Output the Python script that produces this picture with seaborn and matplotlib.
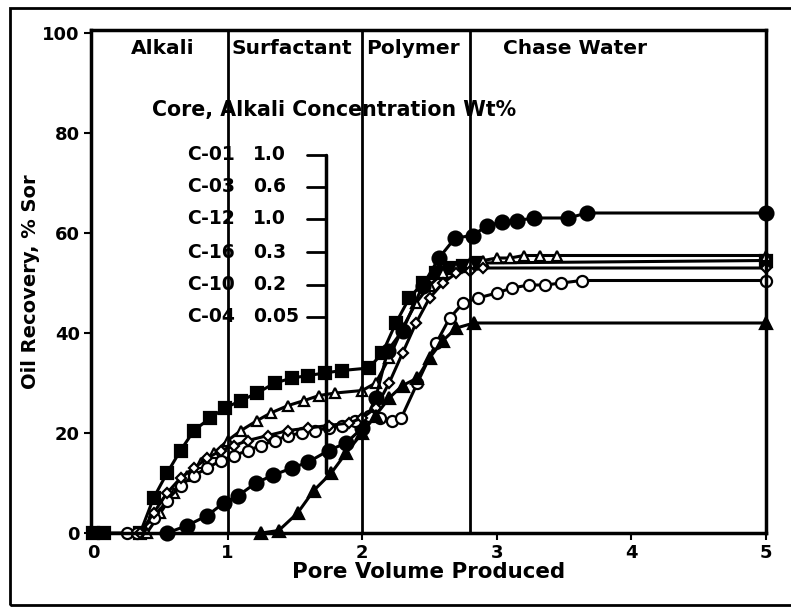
import matplotlib
matplotlib.use("Agg")
import matplotlib.pyplot as plt
import matplotlib.patches as patches
import pandas as pd
import seaborn as sns

sns.set_style("ticks")
plt.rcParams['font.family'] = ['DejaVu Sans']
plt.rcParams['font.weight'] = 'bold'
for key in ['text.color', 'axes.labelcolor', 'xtick.color', 'ytick.color', 'axes.edgecolor']:
    plt.rcParams[key] = 'black'

# core floods: pore volume produced vs oil recovery (% Sor)
pv_sq = [0, 0.08, 0.35, 0.45, 0.55, 0.65, 0.75, 0.87, 0.98, 1.1, 1.22, 1.35, 1.48, 1.6, 1.72,
         1.85, 2.05, 2.15, 2.25, 2.35, 2.45, 2.55, 2.65, 2.75, 2.85, 5.0]
rec_sq = [0, 0, 0, 7, 12, 16.5, 20.5, 23, 25, 26.5, 28, 30, 31, 31.5, 32,
          32.5, 33, 36, 42, 47, 50, 52, 53, 53.5, 54, 54.5]

pv_otri = [0.4, 0.5, 0.6, 0.7, 0.8, 0.9, 1.0, 1.1, 1.22, 1.32, 1.45, 1.57, 1.68, 1.8, 2.0,
           2.1, 2.2, 2.3, 2.4, 2.5, 2.6, 2.7, 2.8, 2.9, 3.0, 3.1, 3.2, 3.32, 3.45, 5.0]
rec_otri = [0, 4, 8, 11.5, 14, 16, 18.5, 20.5, 22.5, 24, 25.5, 26.5, 27.5, 28, 28.5,
            30, 35, 41, 46, 49.5, 52, 53, 54, 54.5, 55, 55, 55.5, 55.5, 55.5, 55.5]

pv_fcir = [0.55, 0.7, 0.85, 0.97, 1.08, 1.21, 1.34, 1.48, 1.6, 1.75, 1.88, 2.0, 2.1, 2.19,
           2.3, 2.45, 2.57, 2.69, 2.82, 2.93, 3.04, 3.15, 3.28, 3.53, 3.67, 5.0]
rec_fcir = [0, 1.5, 3.5, 6, 7.5, 10, 11.6, 13, 14.2, 16.5, 18, 21, 27, 36.5,
            40.5, 49.5, 55, 59, 59.5, 61.5, 62.2, 62.5, 63, 63, 64, 64]

pv_ocir = [0.25, 0.33, 0.45, 0.55, 0.65, 0.75, 0.85, 0.95, 1.05, 1.15, 1.25, 1.35, 1.45, 1.55,
           1.65, 1.75, 1.85, 1.95, 2.05, 2.13, 2.22, 2.29, 2.41, 2.55, 2.65, 2.75, 2.86, 3.0,
           3.11, 3.24, 3.36, 3.48, 3.63, 5.0]
rec_ocir = [0, 0, 3, 6.5, 9.5, 11.5, 13, 14.5, 15.5, 16.5, 17.5, 18.5, 19.5, 20,
            20.5, 21, 21.5, 22.5, 23.5, 23, 22.5, 23, 30, 38, 43, 46, 47, 48,
            49, 49.6, 49.6, 50, 50.5, 50.5]

pv_odia = [0.35, 0.45, 0.55, 0.65, 0.75, 0.85, 0.95, 1.05, 1.15, 1.3, 1.45, 1.6, 1.75, 1.9,
           2.0, 2.1, 2.2, 2.3, 2.4, 2.5, 2.6, 2.7, 2.8, 2.9, 5.0]
rec_odia = [0, 4, 8, 11, 13, 15, 16.5, 17.5, 18.5, 19.5, 20.5, 21, 21.5, 22,
            23, 25, 30, 36, 42, 47, 50, 52, 52.5, 53, 53]

pv_ftri = [1.25, 1.38, 1.52, 1.64, 1.77, 1.88, 2.0, 2.1, 2.2, 2.3, 2.41, 2.5, 2.6, 2.7, 2.83, 5.0]
rec_ftri = [0, 0.5, 4, 8.5, 12, 16, 20, 23.5, 27, 29.5, 31, 35, 38.5, 41, 42, 42]

core_names = ["C-01", "C-03", "C-12", "C-16", "C-10", "C-04"]
alkali_wt = ["1.0", "0.6", "1.0", "0.3", "0.2", "0.05"]

phase_names = ["Alkali", "Surfactant", "Polymer", "Chase Water"]
phase_mid = [0.52, 1.48, 2.38, 3.58]
phase_bounds = [1.0, 2.0, 2.8]

series = [
    (pv_sq, rec_sq, "s", "black", 8),
    (pv_otri, rec_otri, "^", "white", 7),
    (pv_fcir, rec_fcir, "o", "black", 10),
    (pv_ocir, rec_ocir, "o", "white", 8),
    (pv_odia, rec_odia, "D", "white", 5),
    (pv_ftri, rec_ftri, "^", "black", 8),
]

fig = plt.figure(figsize=(7.91, 6.07), dpi=100)
ax = fig.add_axes([91 / 791, 1 - 533 / 607, (766 - 91) / 791, (533 - 30) / 607])

for (xs, ys, mk, fc, ms), name in zip(series, core_names):
    df = pd.DataFrame({"pv": xs, "rec": ys})
    sns.lineplot(data=df, x="pv", y="rec", ax=ax, sort=False, estimator=None,
                 color="black", lw=2.2, marker=mk, markersize=ms,
                 markerfacecolor=fc, markeredgecolor="black", markeredgewidth=1.6,
                 clip_on=False, label=name, legend=False)

for b in phase_bounds:
    ax.axvline(b, color="black", lw=2)

for name, xm in zip(phase_names, phase_mid):
    ax.text(xm, 97, name, ha="center", va="center", fontsize=14.5, fontweight="bold")

# bracket-style key
ax.text(0.44, 84.6, "Core, Alkali Concentration Wt%", ha="left", va="center",
        fontsize=14.8, fontweight="bold")
row_y = [75.6, 69.2, 62.8, 56.2, 49.6, 43.2]
for y, name, wt in zip(row_y, core_names, alkali_wt):
    ax.text(0.70, y, name, ha="left", va="center", fontsize=13.5, fontweight="bold")
    ax.text(1.19, y, wt, ha="left", va="center", fontsize=13.5, fontweight="bold")
    ax.plot([1.59, 1.73], [y, y], color="black", lw=2)
ax.plot([1.73, 1.73], [row_y[0], 12], color="black", lw=2.5)

ax.set_xlim(-0.015, 5.0)
ax.set_ylim(0, 100.6)
ax.set_xticks([0, 1, 2, 3, 4, 5])
ax.set_yticks([0, 20, 40, 60, 80, 100])
ax.tick_params(direction="out", length=5, width=1.5, labelsize=13, pad=3)
for lab in ax.get_xticklabels() + ax.get_yticklabels():
    lab.set_fontweight("bold")
for sp in ax.spines.values():
    sp.set_linewidth(2.5)
    sp.set_visible(True)

ax.set_xlabel("Pore Volume Produced", fontsize=15.4, fontweight="bold", labelpad=0)
ax.set_ylabel("Oil Recovery, % Sor", fontsize=14, fontweight="bold", labelpad=2)

fig.patches.append(patches.Rectangle((10 / 791, 2 / 607), 1.0, 1 - 10 / 607,
                                     transform=fig.transFigure, fill=False,
                                     edgecolor="black", lw=2))

fig.savefig("out.png", dpi=100)
